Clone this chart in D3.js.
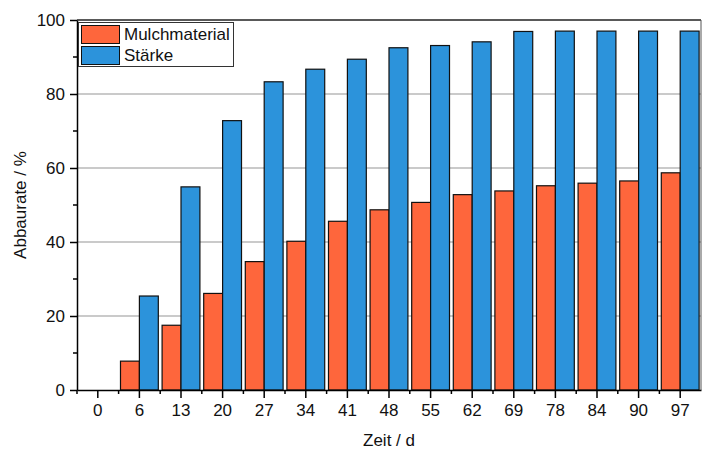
<!DOCTYPE html>
<html>
<head>
<meta charset="utf-8">
<script src="https://cdn.jsdelivr.net/npm/d3@7"></script>
<style>
  body { margin: 0; background: #fff; }
  text { font-family: "Liberation Sans", Arial, sans-serif; font-size: 17px; fill: #111; }
</style>
</head>
<body>
<svg id="chart" width="702" height="450"></svg>
<script>
// Data
var days = ["0", "6", "13", "20", "27", "34", "41", "48", "55", "62", "69", "78", "84", "90", "97"];
var mulch = [0, 7.8, 17.5, 26.1, 34.7, 40.2, 45.6, 48.7, 50.7, 52.8, 53.8, 55.2, 55.9, 56.5, 58.7];
var staerke = [0, 25.4, 54.9, 72.8, 83.3, 86.7, 89.4, 92.5, 93.1, 94.1, 96.9, 97.0, 97.0, 97.0, 97.0];
var seriesNames = ["Mulchmaterial", "Stärke"];
var yTicks = [0, 20, 40, 60, 80, 100];

//Colours
var orange = "#FE663C";
var blue = "#2C93DB";

var plotLeft = 77, plotRight = 701, plotTop = 20, plotBottom = 390;

var svg = d3.select("#chart");

var xScale = d3.scaleBand()
    .domain(days)
    .range([plotLeft, plotRight])
    .paddingInner(0)
    .paddingOuter(0);

var inner = d3.scaleBand()
    .domain(seriesNames)
    .range([0, xScale.bandwidth()])
    .paddingOuter(0.1)
    .paddingInner(0);

var yScale = d3.scaleLinear()
    .domain([0, 100])
    .range([plotBottom, plotTop]);

// Gridlines
svg.append("g")
    .selectAll("line")
    .data([20, 40, 60, 80])
    .enter()
    .append("line")
    .attr("x1", plotLeft)
    .attr("x2", plotRight)
    .attr("y1", d => yScale(d))
    .attr("y2", d => yScale(d))
    .attr("stroke", "#b8b8b8")
    .attr("stroke-width", 1.5);

// Bars
var rows = days.map((d, i) => ({ day: d, values: [mulch[i], staerke[i]] }));
var groups = svg.append("g")
    .selectAll("g")
    .data(rows)
    .enter()
    .append("g")
    .attr("transform", d => "translate(" + xScale(d.day) + ",0)");

groups.selectAll("rect")
    .data(d => d.values.map((v, j) => ({ name: seriesNames[j], value: v })).filter(e => e.value > 0))
    .enter()
    .append("rect")
    .attr("x", d => inner(d.name))
    .attr("y", d => yScale(d.value))
    .attr("width", inner.bandwidth())
    .attr("height", d => yScale(0) - yScale(d.value))
    .attr("fill", d => d.name === "Mulchmaterial" ? orange : blue)
    .attr("stroke", "#111")
    .attr("stroke-width", 1.2);

// Frame: top and right
svg.append("line")
    .attr("x1", plotLeft).attr("x2", plotRight)
    .attr("y1", plotTop).attr("y2", plotTop)
    .attr("stroke", "#222").attr("stroke-width", 1.5);
svg.append("line")
    .attr("x1", plotRight).attr("x2", plotRight)
    .attr("y1", plotTop).attr("y2", plotBottom)
    .attr("stroke", "#555").attr("stroke-width", 1);

// X axis: major ticks at group centres, minor at band edges
var xAxis = d3.axisBottom(xScale).tickSize(8).tickSizeOuter(0).tickPadding(6);
var xg = svg.append("g")
    .attr("transform", "translate(0," + plotBottom + ")")
    .call(xAxis);
xg.select(".domain").attr("stroke", "#000").attr("stroke-width", 1.5);
xg.selectAll(".tick line").attr("stroke", "#000").attr("stroke-width", 1.5);
xg.selectAll(".tick text").style("font-size", "17px").attr("fill", "#111");

svg.append("g")
    .selectAll("line")
    .data(days)
    .enter()
    .append("line")
    .attr("x1", d => xScale(d))
    .attr("x2", d => xScale(d))
    .attr("y1", plotBottom)
    .attr("y2", plotBottom + 4)
    .attr("stroke", "#000")
    .attr("stroke-width", 1.5);

// Y axis
var yAxis = d3.axisLeft(yScale).tickValues(yTicks).tickSize(7).tickSizeOuter(0).tickPadding(5);
var yg = svg.append("g")
    .attr("transform", "translate(" + plotLeft + ",0)")
    .call(yAxis);
yg.select(".domain").attr("stroke", "#000").attr("stroke-width", 1.5);
yg.selectAll(".tick line").attr("stroke", "#000").attr("stroke-width", 1.5);
yg.selectAll(".tick text").style("font-size", "17px").attr("fill", "#111");

svg.append("g")
    .selectAll("line")
    .data([10, 30, 50, 70, 90])
    .enter()
    .append("line")
    .attr("x1", plotLeft - 4)
    .attr("x2", plotLeft)
    .attr("y1", d => yScale(d))
    .attr("y2", d => yScale(d))
    .attr("stroke", "#000")
    .attr("stroke-width", 1.5);

// Axis titles
svg.append("text")
    .attr("x", (plotLeft + plotRight) / 2)
    .attr("y", 446)
    .attr("text-anchor", "middle")
    .text("Zeit / d");

svg.append("text")
    .attr("transform", "translate(26," + ((plotTop + plotBottom) / 2) + ") rotate(-90)")
    .attr("text-anchor", "middle")
    .text("Abbaurate / %");

// Legend
var legend = svg.append("g").attr("transform", "translate(78,22)");
legend.append("rect")
    .attr("x", 0.5).attr("y", 0.5)
    .attr("width", 155).attr("height", 44)
    .attr("fill", "#fff")
    .attr("stroke", "#333")
    .attr("stroke-width", 1);

legend.selectAll(".sw")
    .data(seriesNames)
    .enter()
    .append("rect")
    .attr("x", 3.5)
    .attr("y", (d, i) => 3.5 + i * 21)
    .attr("width", 38)
    .attr("height", 18)
    .attr("fill", (d, i) => i === 0 ? orange : blue)
    .attr("stroke", "#111")
    .attr("stroke-width", 1);

legend.selectAll(".lbl")
    .data(seriesNames)
    .enter()
    .append("text")
    .attr("x", 46)
    .attr("y", (d, i) => 17.5 + i * 21.5)
    .text(d => d);
</script>
</body>
</html>
